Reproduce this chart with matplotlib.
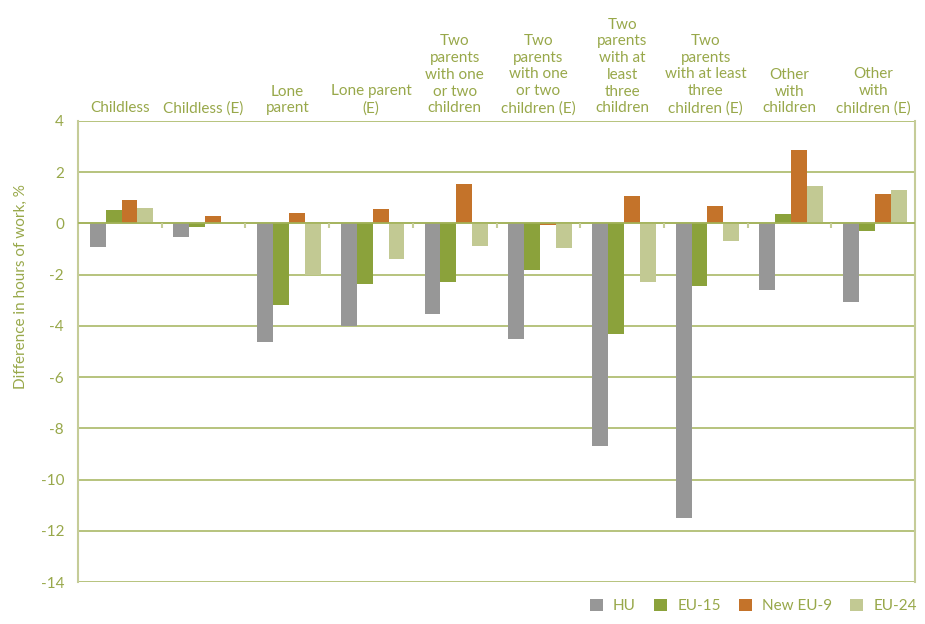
import numpy as np
import matplotlib.pyplot as plt
from matplotlib.transforms import blended_transform_factory

plt.rcParams['font.family'] = ['Lato', 'DejaVu Sans']
plt.rcParams['axes.unicode_minus'] = False

categories = [
    "Childless",
    "Childless (E)",
    "Lone\nparent",
    "Lone parent\n(E)",
    "Two\nparents\nwith one\nor two\nchildren",
    "Two\nparents\nwith one\nor two\nchildren (E)",
    "Two\nparents\nwith at\nleast\nthree\nchildren",
    "Two\nparents\nwith at least\nthree\nchildren (E)",
    "Other\nwith\nchildren",
    "Other\nwith\nchildren (E)",
]
series = ["HU", "EU-15", "New EU-9", "EU-24"]
hu = [-0.94, -0.55, -4.65, -4.02, -3.55, -4.5, -8.7, -11.5, -2.62, -3.08]
eu15 = [0.51, -0.15, -3.2, -2.38, -2.3, -1.83, -4.33, -2.46, 0.35, -0.31]
new_eu9 = [0.9, 0.27, 0.39, 0.55, 1.52, -0.08, 1.06, 0.66, 2.85, 1.13]
eu24 = [0.59, 0.0, -2.03, -1.4, -0.9, -0.97, -2.3, -0.7, 1.45, 1.29]
yticks = [4, 2, 0, -2, -4, -6, -8, -10, -12, -14]

colors = ['#979797', '#8ba23b', '#c4732a', '#c2c993']
txt = '#98a84a'
grid = '#a3b35a'
light = '#c5cc98'

fig = plt.figure(figsize=(9.25, 6.24), dpi=100)
ax = fig.add_axes([0.0843, 0.0673, 0.905, 0.739])

x = np.arange(len(categories))
w = 0.19
for k, (vals, name) in enumerate(zip([hu, eu15, new_eu9, eu24], series)):
    ax.bar(x + (k - 1.5) * w + 0.02, vals, width=w, color=colors[k], label=name, zorder=3)

ax.set_xlim(-0.5, len(categories) - 0.5)
ax.set_ylim(-14, 4)
ax.set_yticks(yticks)
ax.set_yticklabels([str(t) for t in yticks], color=txt, fontsize=11)
ax.tick_params(axis='y', length=0, pad=10)
for t in yticks:
    ax.axhline(t, color=grid, lw=1.1, zorder=1)
ax.axhline(0, color=grid, lw=1.2, zorder=4)

# boundary ticks on the zero line
ax.vlines(x[:-1] + 0.5, -0.2, 0, color=light, lw=1.5, zorder=4)

for s in ['top', 'bottom']:
    ax.spines[s].set_visible(False)
for s in ['left', 'right']:
    ax.spines[s].set_color(light)
    ax.spines[s].set_linewidth(1.5)

ax.set_xticks([])
tr = blended_transform_factory(ax.transData, ax.transAxes)
for i, c in enumerate(categories):
    ax.text(i, 1.012, c, transform=tr, ha='center', va='bottom', color=txt,
            fontsize=11, linespacing=1.25)

ax.set_ylabel("Difference in hours of work, %", color=txt, fontsize=11)
ax.yaxis.set_label_coords(-0.06, 0.64)

fig.legend(loc='lower right', bbox_to_anchor=(1.006, -0.005), ncol=4, frameon=False,
           handlelength=0.85, handleheight=0.85, handletextpad=0.65, columnspacing=1.2,
           labelcolor=txt, prop={'size': 11})

fig.savefig('out.png', dpi=100)
